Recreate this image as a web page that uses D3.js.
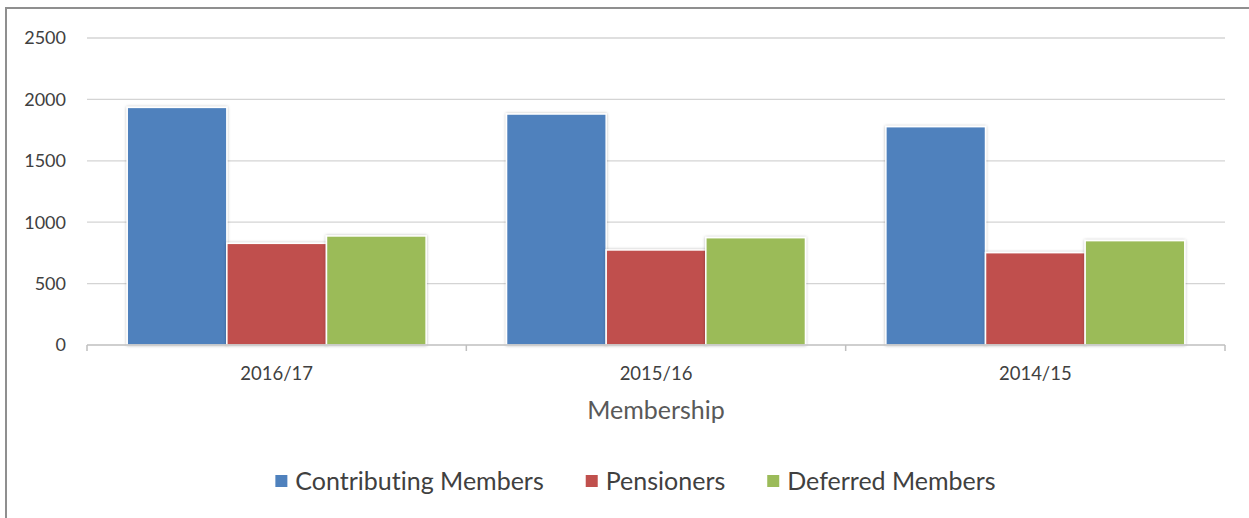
<!DOCTYPE html>
<html>
<head>
<meta charset="utf-8">
<script src="https://cdn.jsdelivr.net/npm/d3@7"></script>
<style>
  html, body { margin: 0; padding: 0; background: #fff; }
  svg { display: block; }
  text { font-family: Lato, "Liberation Sans", sans-serif; font-variant-ligatures: none; }
</style>
</head>
<body>
<svg id="chart" width="1249" height="518"></svg>
<script>
const categories = ["2016/17", "2015/16", "2014/15"];
const seriesNames = ["Contributing Members", "Pensioners", "Deferred Members"];
const contributing = [1935, 1881, 1778];
const pensioners = [828, 774, 752];
const deferred = [888, 874, 850];
const yTicks = [0, 500, 1000, 1500, 2000, 2500];
const colors = ["#4f81bd", "#c0504d", "#9bbb59"];
const axisTitle = "Membership";

const seriesValues = [contributing, pensioners, deferred];
const data = categories.map((c, i) => ({
  cat: c,
  vals: seriesNames.map((s, j) => ({ series: s, idx: j, value: seriesValues[j][i] }))
}));

const svg = d3.select("#chart");
const plot = { left: 87, right: 1225, top: 38, bottom: 345 };

// outer border
svg.append("rect")
  .attr("x", 6).attr("y", 8)
  .attr("width", 1270).attr("height", 530)
  .attr("fill", "#fff")
  .attr("stroke", "#8f8f8f").attr("stroke-width", 2);

const defs = svg.append("defs");
const f = defs.append("filter").attr("id", "shadow")
  .attr("x", "-10%").attr("y", "-10%").attr("width", "120%").attr("height", "120%");
f.append("feDropShadow").attr("dx", 0).attr("dy", 0)
  .attr("stdDeviation", 1.6).attr("flood-color", "#000").attr("flood-opacity", 0.28);

const y = d3.scaleLinear().domain([0, 2500]).range([plot.bottom, plot.top]);
const x0 = d3.scaleBand().domain(categories).range([plot.left, plot.right]).padding(0);
const bw = x0.bandwidth();
const x1 = d3.scaleBand().domain(seriesNames).range([bw * 0.106, bw * 0.894]).padding(0);

// gridlines
svg.append("g").selectAll("line")
  .data(yTicks.filter(t => t > 0))
  .join("line")
  .attr("x1", plot.left).attr("x2", plot.right)
  .attr("y1", d => y(d)).attr("y2", d => y(d))
  .attr("stroke", "#d4d4d4").attr("stroke-width", 1.3);

// y labels
svg.append("g").selectAll("text")
  .data(yTicks)
  .join("text")
  .attr("x", 66).attr("y", d => y(d))
  .attr("dy", "0.36em")
  .attr("text-anchor", "end")
  .attr("fill", "#404040")
  .attr("font-size", 18)
  .text(d => d);

// bars
const groups = svg.append("g").selectAll("g")
  .data(data)
  .join("g")
  .attr("transform", d => `translate(${x0(d.cat)},0)`);

groups.selectAll("rect")
  .data(d => d.vals)
  .join("rect")
  .attr("x", d => x1(d.series))
  .attr("y", d => y(d.value))
  .attr("width", x1.bandwidth())
  .attr("height", d => y(0) - y(d.value))
  .attr("fill", d => colors[d.idx])
  .attr("stroke", "#fff").attr("stroke-width", 1.5)
  .attr("filter", "url(#shadow)");

// x axis line & ticks
const axisG = svg.append("g");
axisG.append("line")
  .attr("x1", plot.left).attr("x2", plot.right)
  .attr("y1", y(0)).attr("y2", y(0))
  .attr("stroke", "#bfbfbf").attr("stroke-width", 1.5);
const boundaries = categories.map(c => x0(c)).concat([x0(categories[categories.length - 1]) + bw]);
axisG.selectAll("line.tick")
  .data(boundaries)
  .join("line")
  .attr("class", "tick")
  .attr("x1", d => d).attr("x2", d => d)
  .attr("y1", y(0)).attr("y2", y(0) + 6)
  .attr("stroke", "#bfbfbf").attr("stroke-width", 1.5);

axisG.selectAll("text")
  .data(categories)
  .join("text")
  .attr("x", d => x0(d) + bw / 2)
  .attr("y", 373)
  .attr("dy", "0.36em")
  .attr("text-anchor", "middle")
  .attr("fill", "#404040")
  .attr("font-size", 18.5)
  .text(d => d);

// axis title
svg.append("text")
  .attr("x", (plot.left + plot.right) / 2)
  .attr("y", 410)
  .attr("dy", "0.36em")
  .attr("text-anchor", "middle")
  .attr("fill", "#595959")
  .attr("font-size", 25)
  .text(axisTitle);

// legend
const legend = svg.append("g");
const items = legend.selectAll("g")
  .data(seriesNames)
  .join("g");
items.append("rect")
  .attr("width", 12).attr("height", 12)
  .attr("y", -6)
  .attr("fill", (d, i) => colors[i]);
items.append("text")
  .attr("x", 20)
  .attr("dy", "0.36em")
  .attr("fill", "#404040")
  .attr("font-size", 25)
  .text(d => d);
const widths = [];
items.each(function() {
  const tw = d3.select(this).select("text").node().getComputedTextLength();
  widths.push(20 + tw);
});
const gap = 42;
const total = d3.sum(widths) + gap * (widths.length - 1);
let startX = 635.5 - total / 2;
items.attr("transform", (d, i) => {
  const tx = startX;
  startX += widths[i] + gap;
  return `translate(${tx},481)`;
});
</script>
</body>
</html>
